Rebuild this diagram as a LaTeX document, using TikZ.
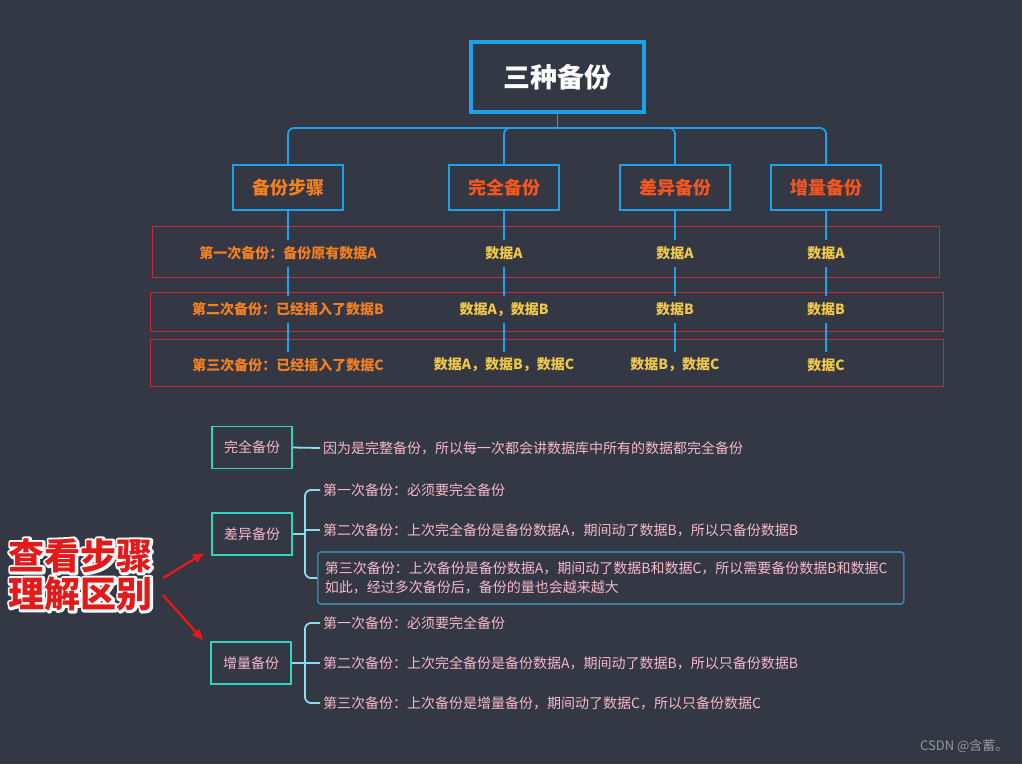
\documentclass[tikz,border=0pt]{standalone}
\usepackage{fontspec}
\setmainfont{Noto Sans CJK SC}
\usetikzlibrary{calc,arrows.meta}
\definecolor{bg}{RGB}{52,55,68}
\definecolor{skyb}{RGB}{26,163,232}
\definecolor{orng}{RGB}{242,128,32}
\definecolor{rorng}{RGB}{244,86,30}
\definecolor{gold}{RGB}{238,200,74}
\definecolor{rowred}{RGB}{198,43,51}
\definecolor{pinkt}{RGB}{245,185,203}
\definecolor{teal}{RGB}{47,214,190}
\definecolor{brc}{RGB}{140,222,236}
\definecolor{steel}{RGB}{62,127,168}
\definecolor{annred}{RGB}{226,26,26}
\newcommand{\outlinestart}{\special{pdf:literal direct 2 Tr 5 w 1 j}}
\newcommand{\outlineend}{\special{pdf:literal direct 0 Tr}}
\begin{document}
\begin{tikzpicture}[x=1pt,y=-1pt,
  titlebox/.style={draw=skyb,line width=4pt,minimum width=173pt,minimum height=70pt,text=white,font=\fontsize{27}{32}\selectfont\bfseries},
  childbox/.style={draw=skyb,line width=1.8pt,minimum width=110pt,minimum height=45pt,font=\fontsize{18}{22}\selectfont\bfseries},
  conn/.style={draw=skyb,line width=1.8pt},
  rowbox/.style={draw=rowred,line width=1pt},
  rowlab/.style={fill=bg,inner xsep=2pt,minimum height=27pt,font=\fontsize{14}{17}\selectfont\bfseries},
  lbox/.style={draw=teal,line width=1.8pt,minimum width=80pt,minimum height=42pt,text=pinkt,font=\fontsize{14}{17}\selectfont},
  ltext/.style={anchor=west,inner xsep=3pt,text=pinkt,font=\fontsize{14}{17}\selectfont},
  br/.style={draw=brc,line width=1.8pt,rounded corners=6pt},
  annot/.style={align=center,font=\fontsize{36}{40}\selectfont\bfseries},
  redarrow/.style={draw=annred,line width=2.4pt,-{Triangle[length=11pt,width=9pt]}}]
\fill[bg] (0,0) rectangle (1022,764);
\useasboundingbox (0,0) rectangle (1022,764);

% title and children
\node[titlebox] (title) at (557.5,77) {三种备份};
\node[childbox,text=orng] (c1) at (288,187.5) {备份步骤};
\node[childbox,text=rorng] (c2) at (504,187.5) {完全备份};
\node[childbox,text=rorng] (c3) at (675,187.5) {差异备份};
\node[childbox,text=rorng] (c4) at (826,187.5) {增量备份};
\coordinate (bus) at (557.5,128);
\coordinate (lineend) at (0,352);
\draw[conn] (title.south) -- (bus);
\foreach \c in {c1,c2,c3,c4}{
  \draw[conn,rounded corners=6pt] (bus) -| (\c.north);
}

% row boxes
\node[rowbox,minimum width=787pt,minimum height=51pt] (row1) at (545.5,251.5) {};
\node[rowbox,minimum width=793pt,minimum height=39pt] (row2) at (546.5,311.5) {};
\node[rowbox,minimum width=793pt,minimum height=47pt] (row3) at (546.5,362.5) {};

\foreach \c in {c1,c2,c3,c4}{
  \draw[conn] (\c.south) -- (\c.south |- lineend);
}

% row labels
\node[rowlab,text=orng] (r1a) at (288,253) {第一次备份：备份原有数据A};
\node[rowlab,text=gold] (r1b) at (504,253) {数据A};
\node[rowlab,text=gold] (r1c) at (675,253) {数据A};
\node[rowlab,text=gold] (r1d) at (826,253) {数据A};
\node[rowlab,text=orng] (r2a) at (288,309.5) {第二次备份：已经插入了数据B};
\node[rowlab,text=gold] (r2b) at (504,309.5) {数据A，数据B};
\node[rowlab,text=gold] (r2c) at (675,309.5) {数据B};
\node[rowlab,text=gold] (r2d) at (826,309.5) {数据B};
\node[rowlab,text=orng] (r3a) at (288,365) {第三次备份：已经插入了数据C};
\node[rowlab,text=gold] (r3b) at (504,365) {数据A，数据B，数据C};
\node[rowlab,text=gold] (r3c) at (675,365) {数据B，数据C};
\node[rowlab,text=gold] (r3d) at (826,365) {数据C};

% lower: full backup
\node[lbox] (fb) at (252,447.5) {完全备份};
\node[ltext] (fbt) at (320,448) {因为是完整备份，所以每一次都会讲数据库中所有的数据都完全备份};
\draw[br] (fb.east) -- (fbt.west);

% differential
\node[lbox] (cy) at (252,534) {差异备份};
\coordinate (dj) at (305,534);
\node[ltext] (cy1) at (320,490) {第一次备份：必须要完全备份};
\node[ltext] (cy2) at (320,530) {第二次备份：上次完全备份是备份数据A，期间动了数据B，所以只备份数据B};
\node[anchor=west,draw=steel,line width=1.6pt,rounded corners=3pt,minimum width=586pt,minimum height=52pt,
      text width=572pt,inner xsep=6pt,align=left,text=pinkt,font=\fontsize{14}{19}\selectfont] (cy3) at (317,578)
      {第三次备份：上次备份是备份数据A，期间动了数据B和数据C，所以需要备份数据B和数据C\\如此，经过多次备份后，备份的量也会越来越大};
\draw[br] (cy1.west) -| (dj) |- (cy3.west);
\draw[br] (cy.east) -- (dj);
\draw[br] (dj |- cy2.west) -- (cy2.west);

% incremental
\node[lbox] (zl) at (251,663) {增量备份};
\coordinate (zj) at (305,663);
\node[ltext] (zl1) at (320,623) {第一次备份：必须要完全备份};
\node[ltext] (zl2) at (320,663) {第二次备份：上次完全备份是备份数据A，期间动了数据B，所以只备份数据B};
\node[ltext] (zl3) at (320,703) {第三次备份：上次备份是增量备份，期间动了数据C，所以只备份数据C};
\draw[br] (zl1.west) -| (zj) |- (zl3.west);
\draw[br] (zl.east) -- (zl2.west);

% annotation: white outline drawn with stroked text, red text on top
\coordinate (notec) at (81,575);
\node[annot,text=white] (noteo) at (notec) {\outlinestart 查看步骤\\[-2pt]理解区别\outlineend};
\node[annot,text=annred] (note) at (notec) {查看步骤\\[-2pt]理解区别};
\coordinate (a1s) at (163,578);
\coordinate (a1e) at (204,553);
\coordinate (a2s) at (163,595);
\coordinate (a2e) at (203,640);
\draw[redarrow] (a1s) -- (a1e);
\draw[redarrow] (a2s) -- (a2e);

\node[text=gray!80,font=\fontsize{13}{15}\selectfont,anchor=east] (wm) at (1012,746) {CSDN @含蓄。};
\end{tikzpicture}
\end{document}
